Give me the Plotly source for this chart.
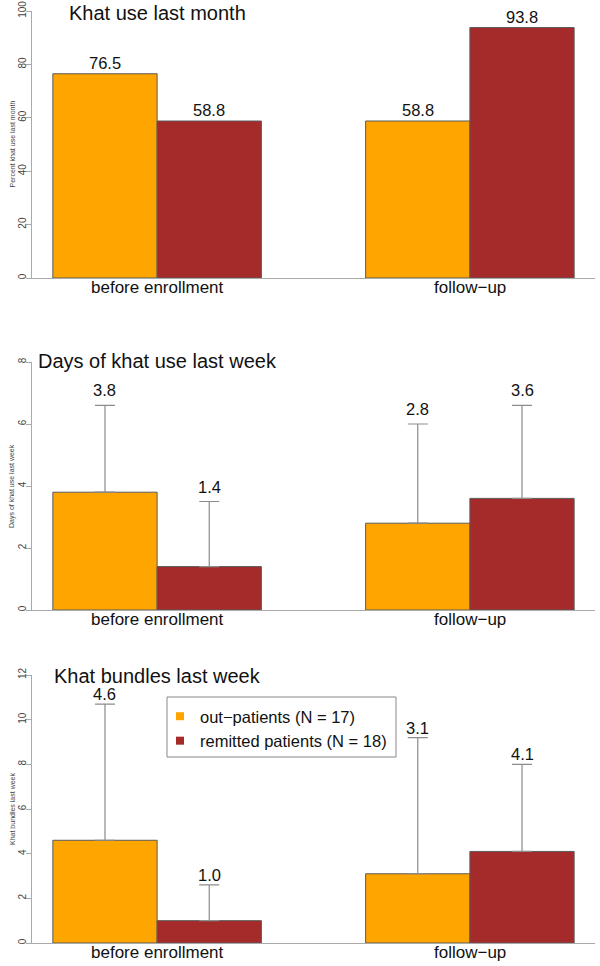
import plotly.graph_objects as go

categories = ["before enrollment", "follow\u2212up"]
series_names = ["out\u2212patients (N = 17)", "remitted patients (N = 18)"]

titles = ["Khat use last month", "Days of khat use last week", "Khat bundles last week"]
ytitles = ["Percent khat use last month", "Days of khat use last week", "Khat bundles last week"]

# panel 1: percent
p1_out = [76.5, 58.8]
p1_rem = [58.8, 93.8]
# panel 2: days (mean, upper sd)
p2_out = [3.8, 2.8]
p2_rem = [1.4, 3.6]
p2_out_sd = [2.8, 3.2]
p2_rem_sd = [2.1, 3.0]
# panel 3: bundles
p3_out = [4.6, 3.1]
p3_rem = [1.0, 4.1]
p3_out_sd = [6.1, 6.1]
p3_rem_sd = [1.6, 3.9]

y_ranges = [[0, 100], [0, 8], [0, 12]]
y_ticks = [[0, 20, 40, 60, 80, 100], [0, 2, 4, 6, 8], [0, 2, 4, 6, 8, 10, 12]]

colors = ["#FFA500", "#A52A2A"]
FONT = "Liberation Sans, Arial, Helvetica, sans-serif"
W, H = 600, 966

# pixel geometry of panels in the page (top px, bottom px)
panels_px = [(11, 278), (362, 610), (675, 943)]
label_shift = [11, 15, 10]
title_px = [13, 361, 676]


def px(p):
    return p / W


def py(p):
    return 1 - p / H


fig = go.Figure()
data = [
    (p1_out, p1_rem, None, None),
    (p2_out, p2_rem, p2_out_sd, p2_rem_sd),
    (p3_out, p3_rem, p3_out_sd, p3_rem_sd),
]

for i, (vo, vr, so, sr) in enumerate(data):
    ax = "" if i == 0 else str(i + 1)
    top, bot = panels_px[i]
    for j, (vals, sds) in enumerate([(vo, so), (vr, sr)]):
        err = None
        if sds is not None:
            err = dict(type="data", symmetric=False, array=sds,
                       arrayminus=[0] * len(sds), color="#8c8c8c",
                       thickness=1.2, width=10)
        fig.add_trace(go.Bar(
            x=categories, y=vals, name=series_names[j],
            marker=dict(color=colors[j], line=dict(color="#5a5a5a", width=1)),
            error_y=err, xaxis="x" + ax, yaxis="y" + ax,
            showlegend=False, hoverinfo="skip",
        ))
        for k, v in enumerate(vals):
            tip = v + (sds[k] if sds is not None else 0)
            fig.add_annotation(
                x=k + (-1 / 6 if j == 0 else 1 / 6), y=tip,
                xref="x" + ax, yref="y" + ax,
                text=f"{v:.1f}", showarrow=False,
                yanchor="middle", yshift=label_shift[i],
                font=dict(size=16.5, color="#111", family=FONT),
            )
    # panel title
    fig.add_annotation(
        x=0, y=py(title_px[i]), xref="x" + ax, yref="paper",
        text=titles[i], showarrow=False, yanchor="middle", xanchor="center",
        font=dict(size=20, color="#111", family=FONT),
    )
    # y axis title
    fig.add_annotation(
        x=px(12), y=py((top + bot) / 2), xref="paper", yref="paper",
        text=ytitles[i], showarrow=False, textangle=-90,
        xanchor="center", yanchor="middle",
        font=dict(size=7, color="#444", family=FONT),
    )
    # category labels under the bars
    for k, c in enumerate(categories):
        fig.add_annotation(
            x=k, y=py(bot + 9), xref="x" + ax, yref="paper",
            text=c, showarrow=False, yanchor="middle", xanchor="center",
            font=dict(size=17, color="#111", family=FONT),
        )
    fig.update_layout(**{
        "xaxis" + ax: dict(
            domain=[px(32), px(595)], anchor="y" + ax, type="category",
            automargin=False,
            range=[-0.4, 1.4], showline=True, linecolor="#aaaaaa", linewidth=1,
            ticks="", showticklabels=False,
            showgrid=False, zeroline=False, fixedrange=True,
        ),
        "yaxis" + ax: dict(
            domain=[py(bot), py(top)], anchor="x" + ax, automargin=False,
            range=y_ranges[i], tickvals=y_ticks[i],
            showline=True, linecolor="#aaaaaa", linewidth=1,
            ticks="outside", ticklen=5, tickcolor="#aaaaaa",
            tickangle=-90, ticklabelstandoff=-4,
            tickfont=dict(size=10, color="#444", family=FONT),
            showgrid=False, zeroline=False, fixedrange=True,
        ),
    })

# legend entries (small square keys, as in the reference)
for j in range(2):
    fig.add_trace(go.Scatter(
        x=[None], y=[None], mode="markers", name=series_names[j],
        marker=dict(symbol="square", size=8, color=colors[j]),
        xaxis="x3", yaxis="y3", showlegend=True,
    ))

fig.add_shape(type="rect", xref="paper", yref="paper",
              x0=px(167), x1=px(396), y0=py(757), y1=py(697),
              line=dict(color="#888888", width=1), fillcolor="rgba(0,0,0,0)")

fig.update_layout(
    width=W, height=H,
    margin=dict(l=0, r=0, t=0, b=0),
    paper_bgcolor="white", plot_bgcolor="white",
    barmode="group", bargap=1 / 3, bargroupgap=0,
    font=dict(family=FONT, color="#111"),
    legend=dict(x=px(160), y=py(699), xanchor="left", yanchor="top",
                bgcolor="rgba(0,0,0,0)", borderwidth=0,
                font=dict(size=16.5, family=FONT, color="#111"),
                itemwidth=30, tracegroupgap=0),
)

fig.write_html("out.html",
               config={"displayModeBar": False, "staticPlot": True},
               post_script="document.body.style.margin='0';")
